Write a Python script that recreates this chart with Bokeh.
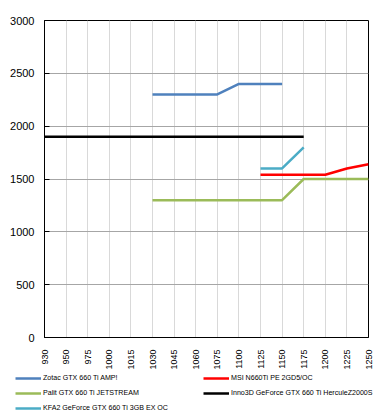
import math
from bokeh.plotting import figure
from bokeh.layouts import column
from bokeh.models import Range1d, FixedTicker, Legend, LegendItem
from bokeh.embed import file_html
from bokeh.resources import INLINE

nan = float("nan")

categories = ["930", "950", "975", "1000", "1015", "1030", "1045", "1060",
              "1075", "1100", "1125", "1150", "1175", "1200", "1225", "1250"]

zotac = [nan, nan, nan, nan, nan, 2300, 2300, 2300, 2300, 2400, 2400, 2400, nan, nan, nan, nan]
msi = [nan, nan, nan, nan, nan, nan, nan, nan, nan, nan, 1540, 1540, 1540, 1540, 1600, 1640]
palit = [nan, nan, nan, nan, nan, 1300, 1300, 1300, 1300, 1300, 1300, 1300, 1500, 1500, 1500, 1500]
inno3d = [1900, 1900, 1900, 1900, 1900, 1900, 1900, 1900, 1900, 1900, 1900, 1900, 1900, nan, nan, nan]
kfa2 = [nan, nan, nan, nan, nan, nan, nan, nan, nan, nan, 1600, 1600, 1800, nan, nan, nan]

series_names = ["Zotac GTX 660 Ti AMP!", "MSI N660Ti PE 2GD5/OC",
                "Palit GTX 660 Ti JETSTREAM", "Inno3D GeForce GTX 660 Ti HerculeZ2000S",
                "KFA2 GeForce GTX 660 Ti 3GB EX OC"]
series_values = [zotac, msi, palit, inno3d, kfa2]
series_colors = ["#4F81BD", "#FF0000", "#9BBB59", "#000000", "#4BACC6"]

y_ticks = [0, 500, 1000, 1500, 2000, 2500, 3000]

xs = list(range(len(categories)))

p = figure(width=377, height=372, output_backend="svg", toolbar_location=None,
           x_range=Range1d(0, len(categories) - 1), y_range=Range1d(0, 3000),
           min_border_left=44, min_border_right=9, min_border_top=20, min_border_bottom=34)

p.outline_line_color = "black"
p.outline_line_width = 1
p.background_fill_color = "white"
p.border_fill_color = "white"

# x axis
p.xaxis.ticker = FixedTicker(ticks=xs)
p.xaxis.major_label_overrides = {i: c for i, c in enumerate(categories)}
p.xaxis.major_label_orientation = math.pi / 2
p.xaxis.major_tick_line_color = None
p.xaxis.minor_tick_line_color = None
p.xaxis.axis_line_color = "black"
p.xaxis.major_label_text_font = "Liberation Sans"
p.xaxis.major_label_text_font_size = "9px"
p.xaxis.major_label_text_color = "#000000"
p.xaxis.major_label_standoff = 6

# y axis
p.yaxis.ticker = FixedTicker(ticks=y_ticks)
p.yaxis.major_tick_in = 5
p.yaxis.major_tick_out = 0
p.yaxis.major_tick_line_color = "black"
p.yaxis.minor_tick_line_color = None
p.yaxis.axis_line_color = "black"
p.yaxis.major_label_text_font = "Liberation Sans"
p.yaxis.major_label_text_font_size = "11px"
p.yaxis.major_label_text_color = "#000000"
p.yaxis.major_label_standoff = 10

p.xgrid.grid_line_color = "#D9D9D9"
p.xgrid.grid_line_width = 1
p.ygrid.grid_line_color = "#A6A6A6"
p.ygrid.grid_line_width = 1

for vals, col in zip(series_values, series_colors):
    p.line(xs, vals, line_color=col, line_width=2.5)

# legend in a separate strip below the chart
lf = figure(width=377, height=42, output_backend="svg", toolbar_location=None,
            x_range=Range1d(0, 1), y_range=Range1d(0, 1),
            x_axis_location=None, y_axis_location=None,
            min_border_left=0, min_border_right=0, min_border_top=0, min_border_bottom=0)
lf.grid.visible = False
lf.outline_line_color = None
lf.frame_align = False
items = []
for name, col in zip(series_names, series_colors):
    r = lf.line([nan], [nan], line_color=col, line_width=2.5)
    items.append(LegendItem(label=name, renderers=[r]))

legend = Legend(items=items, ncols=2, location=(15, 1), orientation="horizontal")
legend.label_text_font = "Liberation Sans"
legend.label_text_font_size = "7.1px"
legend.label_text_color = "#000000"
legend.glyph_width = 26
legend.glyph_height = 10
legend.label_height = 10
legend.label_standoff = 2
legend.label_width = 155
legend.spacing = 5
legend.padding = 0
legend.margin = 0
legend.border_line_alpha = 0
legend.background_fill_alpha = 0
lf.add_layout(legend, "center")

layout = column(p, lf, spacing=0)
open("out.html", "w").write(file_html(layout, INLINE))
